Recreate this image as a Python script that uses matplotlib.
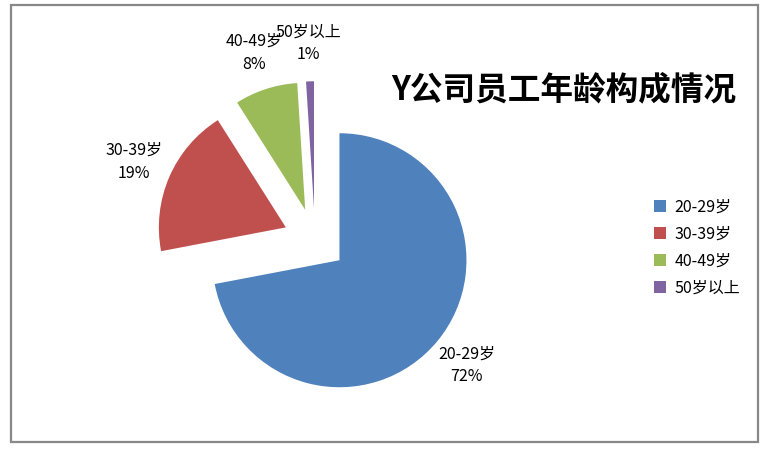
import matplotlib
matplotlib.use('Agg')
from matplotlib import pyplot as plt
from matplotlib.patches import Rectangle

plt.rcParams['font.family'] = ['Noto Sans CJK SC', 'DejaVu Sans']

# data
categories = ['20-29岁', '30-39岁', '40-49岁', '50岁以上']
shares = [72, 19, 8, 1]
colors = ['#4F81BD', '#C0504D', '#9BBB59', '#8064A2']
title = 'Y公司员工年龄构成情况'

W, H = 775, 450
R = 127.0           # pie radius in pixels
cx, cy = 315, 240   # pie centre in pixels (from top-left)

fig = plt.figure(figsize=(W / 100, H / 100), dpi=100)
ax = fig.add_axes([0, 0, 1, 1])

labels = [c + '\n' + str(s) + '%' for c, s in zip(categories, shares)]
wedges, texts = ax.pie(shares, colors=colors, startangle=90, counterclock=False,
                       explode=[0.25] * 4, radius=1, labels=labels,
                       labeldistance=1.3,
                       textprops=dict(fontsize=11.5, linespacing=1.45),
                       wedgeprops=dict(linewidth=0))
for t in texts:
    t.set_ha('center')
    t.set_va('center')

ax.set_xlim(-cx / R, (W - cx) / R)
ax.set_ylim(-(H - cy) / R, cy / R)
ax.set_aspect('auto')
ax.axis('off')

fig.text(0.728, 0.80, title, fontsize=23.5, fontweight='bold',
         ha='center', va='center')

fig.legend(wedges, categories, loc='upper left', bbox_to_anchor=(0.825, 0.59),
           frameon=False, fontsize=11.5, handlelength=0.75, handleheight=0.75,
           handletextpad=0.55, labelspacing=0.62)

# outer chart border
fig.patches.append(Rectangle((10.5 / W, 1 - 441.5 / H), 747 / W, 437 / H,
                             transform=fig.transFigure, fill=False,
                             edgecolor='#888888', linewidth=1.6))

fig.savefig('out.png', dpi=100)
